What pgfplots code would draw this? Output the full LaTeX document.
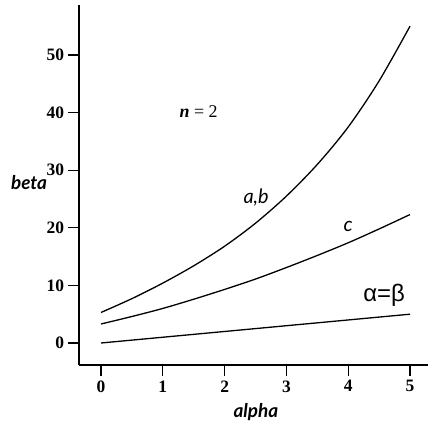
\documentclass[border=0pt]{standalone}
\usepackage{fontspec}
\setmainfont{Liberation Serif}
\newfontfamily\labfont{Lato}
\newfontfamily\grkfont{Liberation Sans}
\usepackage{pgfplots}
\pgfplotsset{compat=1.18}

\begin{document}
\begin{tikzpicture}
\begin{axis}[
    scale only axis,
    width=349bp, height=360bp,
    xmin=-0.356, xmax=5.291,
    ymin=-3.82, ymax=58.68,
    axis lines*=left,
    axis line style={line width=1.2bp},
    tick align=outside,
    major tick length=11bp,
    tick style={line width=1.2bp, black},
    xtick={0,1,2,3,4,5},
    ytick={0,10,20,30,40,50},
    /pgf/number format/assume math mode=true,
    ticklabel style={font=\fontsize{17.5}{19}\selectfont\bfseries},
    xticklabel style={yshift=-1bp},
    yticklabel style={xshift=-0.5bp},
    xlabel={alpha},
    ylabel={beta},
    label style={font=\fontsize{19}{21}\selectfont\labfont\bfseries\itshape},
    xlabel style={at={(rel axis cs:0.507,-0.131)}, anchor=center},
    ylabel style={rotate=-90, at={(rel axis cs:-0.143,0.508)}, anchor=center},
    clip=false,
]
% a,b
\addplot[black, line width=1.3bp, smooth] coordinates {
  (0,5.3) (0.5,7.7) (1,10.4) (1.5,13.4) (2,16.8) (2.5,20.8)
  (3,25.5) (3.5,31.0) (4,37.5) (4.5,45.5) (5,55.0)};
% c
\addplot[black, line width=1.3bp, smooth] coordinates {
  (0,3.3) (0.5,4.6) (1,6.0) (1.5,7.6) (2,9.3) (2.5,11.1)
  (3,13.1) (3.5,15.2) (4,17.4) (4.5,19.8) (5,22.3)};
% alpha = beta
\addplot[black, line width=1.3bp] coordinates {(0,0) (5,5)};

\node[font=\fontsize{18}{20}\selectfont] at (axis cs:1.58,40.1) {\textbf{\textit{n}} = 2};
\node[font=\fontsize{20}{22}\selectfont\labfont\itshape] at (axis cs:2.51,25.3) {a,b};
\node[font=\fontsize{20}{22}\selectfont\labfont\itshape] at (axis cs:4.0,20.3) {c};
\node[font=\fontsize{24}{26}\selectfont\grkfont] at (axis cs:4.58,8.2) {α=β};
\end{axis}
\pgfresetboundingbox
\path[use as bounding box] (-79bp,-61bp) rectangle (349bp,365bp);
\end{tikzpicture}
\end{document}
